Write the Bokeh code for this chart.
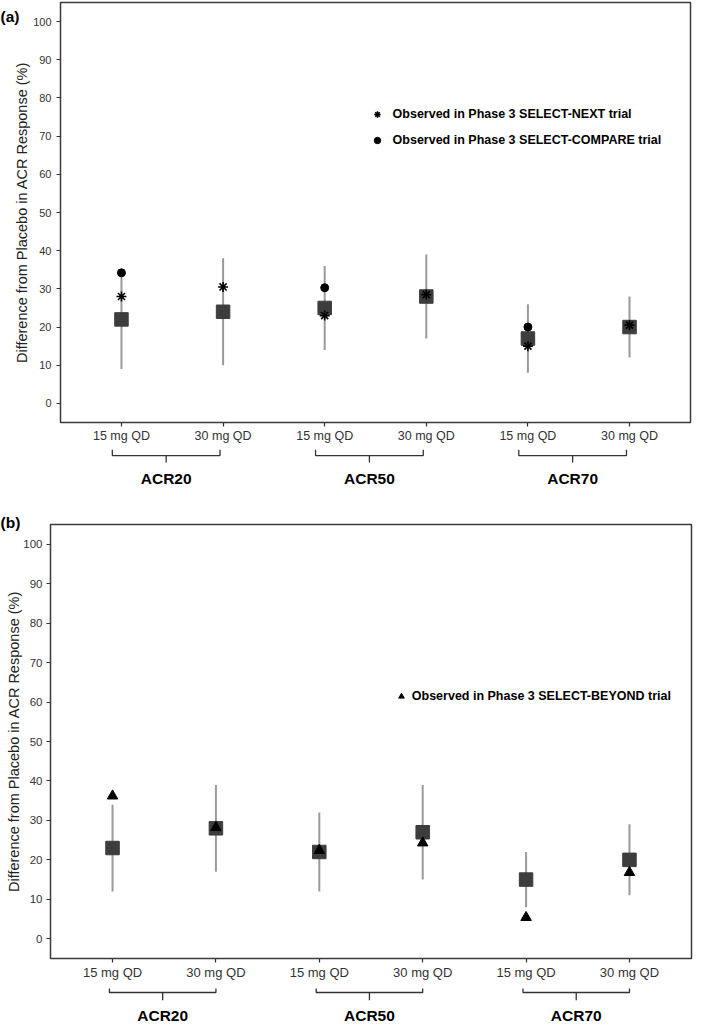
from bokeh.plotting import figure
from bokeh.models import Range1d, FixedTicker, Legend, LegendItem, ColumnDataSource, Title
from bokeh.layouts import column
from bokeh.embed import file_html
from bokeh.resources import INLINE
from bokeh.core.properties import value

# ---------------- data ----------------
groups = ["ACR20", "ACR50", "ACR70"]
doses = ["15 mg QD", "30 mg QD"]
y_ticks = [0, 10, 20, 30, 40, 50, 60, 70, 80, 90, 100]
y_title = "Difference from Placebo in ACR Response (%)"

# panel (a): model-predicted difference (median, 95% interval) and observed
a_est = [22, 24, 25, 28, 17, 20]
a_lo = [9, 10, 14, 17, 8, 12]
a_hi = [34, 38, 36, 39, 26, 28]
a_next = [28, 30.5, 23, 28.5, 15, 20.5]
a_compare = [34.2, None, 30.3, None, 20, None]
a_next_label = "Observed in Phase 3 SELECT-NEXT trial"
a_compare_label = "Observed in Phase 3 SELECT-COMPARE trial"

# panel (b)
b_est = [23, 28, 22, 27, 15, 20]
b_lo = [12, 17, 12, 15, 8, 11]
b_hi = [34, 39, 32, 39, 22, 29]
b_beyond = [36.2, 28.2, 22.4, 24.3, 5.4, 16.8]
b_beyond_label = "Observed in Phase 3 SELECT-BEYOND trial"

FONT = "Liberation Sans"
W = 693
xs = [i + 1 for i in range(len(groups) * len(doses))]
x_labels = {x: doses[(x - 1) % 2] for x in xs}


def no_align(f):
    try:
        f.frame_align = False
    except Exception:
        pass


def main_fig(height, bl, br, bt, ytick_size, xtick_size, ystandoff, lab_standoff):
    p = figure(width=W, height=height, x_range=Range1d(0.4, 6.6), y_range=Range1d(-5, 105),
               output_backend="svg", toolbar_location=None,
               min_border_left=bl, min_border_right=br, min_border_top=bt, min_border_bottom=26)
    no_align(p)
    p.grid.visible = False
    p.outline_line_color = "#3a3a3a"
    p.outline_line_width = 1.5
    p.xaxis.ticker = FixedTicker(ticks=xs)
    p.xaxis.major_label_overrides = x_labels
    p.yaxis.ticker = FixedTicker(ticks=y_ticks)
    for ax in p.axis:
        ax.axis_line_color = None
        ax.major_tick_out = 4
        ax.major_tick_in = 0
        ax.minor_tick_out = 0
        ax.minor_tick_in = 0
        ax.major_tick_line_color = "#333333"
        ax.major_tick_line_width = 1.2
        ax.major_label_text_font = FONT
        ax.major_label_text_color = "#333333"
    p.xaxis.major_label_text_font_size = xtick_size
    p.xaxis.major_label_standoff = 2
    p.yaxis.major_label_text_font_size = ytick_size
    p.yaxis.major_label_standoff = ystandoff
    p.yaxis.axis_label = y_title
    p.yaxis.axis_label_text_font = FONT
    p.yaxis.axis_label_text_font_size = "14.5px"
    p.yaxis.axis_label_text_font_style = "normal"
    p.yaxis.axis_label_text_color = "#222222"
    p.yaxis.axis_label_standoff = lab_standoff
    return p


def draw_estimates(p, est, lo, hi):
    src = ColumnDataSource(dict(x=xs, est=est, lo=lo, hi=hi))
    p.segment(x0="x", y0="lo", x1="x", y1="hi", source=src, line_color="#9a9a9a", line_width=2)
    p.scatter("x", "est", source=src, marker="square", size=13.5,
              fill_color="#3d3d3d", line_color="#3d3d3d")


def observed(p, vals, marker, size, filled=True):
    ox = [x for x, v in zip(xs, vals) if v is not None]
    oy = [v for v in vals if v is not None]
    if filled:
        return p.scatter(ox, oy, marker=marker, size=size, fill_color="black", line_color="black")
    return p.scatter(ox, oy, marker=marker, size=size, line_color="black", line_width=1.6)


def bracket_fig(x_range, height, bl, br, top, hz, bot, lab_y, dl, dr):
    q = figure(width=W, height=height, x_range=x_range, y_range=Range1d(height, 0),
               x_axis_type=None, y_axis_type=None, output_backend="svg", toolbar_location=None,
               min_border_left=bl, min_border_right=br, min_border_top=0, min_border_bottom=0)
    no_align(q)
    q.outline_line_color = None
    bx, by, centers = [], [], []
    for gi in range(len(groups)):
        p1, p2 = 2 * gi + 1, 2 * gi + 2
        left, right = p1 - dl, p2 + dr
        mid = (left + right) / 2
        bx.append([left, left, right, right]); by.append([top, hz, hz, top])
        bx.append([mid, mid]); by.append([hz, bot])
        centers.append(mid)
    q.multi_line(bx, by, line_color="#333333", line_width=1.3)
    q.text(x=centers, y=[lab_y] * len(groups), text=groups, text_align="center",
           text_baseline="middle", text_font=value(FONT), text_font_size="15.5px",
           text_font_style="bold", text_color="black")
    return q


def make_legend(items, vx, vy, gw, standoff):
    return Legend(items=items, location=(vx, vy), background_fill_alpha=0, border_line_alpha=0,
                  padding=0, margin=0, spacing=6, glyph_width=gw, glyph_height=20, label_height=20,
                  label_standoff=standoff, label_text_font=FONT, label_text_font_style="bold",
                  label_text_font_size="12.5px", label_text_color="black")


def panel_tag(p, text, offset, standoff):
    p.add_layout(Title(text=text, align="left", offset=offset, standoff=standoff,
                       text_font=FONT, text_font_size="15.5px", text_font_style="bold",
                       text_color="black"), "above")


# ---------------- panel (a) ----------------
fa = main_fig(448, 60, 3, 2, "11px", "12.5px", 5, 0)
draw_estimates(fa, a_est, a_lo, a_hi)
r_next = observed(fa, a_next, "asterisk", 10, filled=False)
r_comp = observed(fa, a_compare, "circle", 8)
fa.add_layout(make_legend([LegendItem(label=a_next_label, renderers=[r_next]),
                           LegendItem(label=a_compare_label, renderers=[r_comp])],
                          308.6, 271.7, 16, 8))
panel_tag(fa, "(a)", -60, -45)
ba = bracket_fig(fa.x_range, 57, 60, 3, 1.2, 7.1, 14, 29.7, 0.09, -0.03)

# ---------------- panel (b) ----------------
fb = main_fig(479, 50, 2, 19, "11.5px", "13px", 4, -2)
draw_estimates(fb, b_est, b_lo, b_hi)
r_bey = observed(fb, b_beyond, "triangle", 10.5)
fb.add_layout(make_legend([LegendItem(label=b_beyond_label, renderers=[r_bey])],
                          343.8, 251.6, 14, 4))
panel_tag(fb, "(b)", -50, -12)
bb = bracket_fig(fb.x_range, 40, 50, 2, 4, 8, 15.8, 30.6, 0.03, 0.0)

layout = column(fa, ba, fb, bb)
open("out.html", "w").write(file_html(layout, INLINE))
